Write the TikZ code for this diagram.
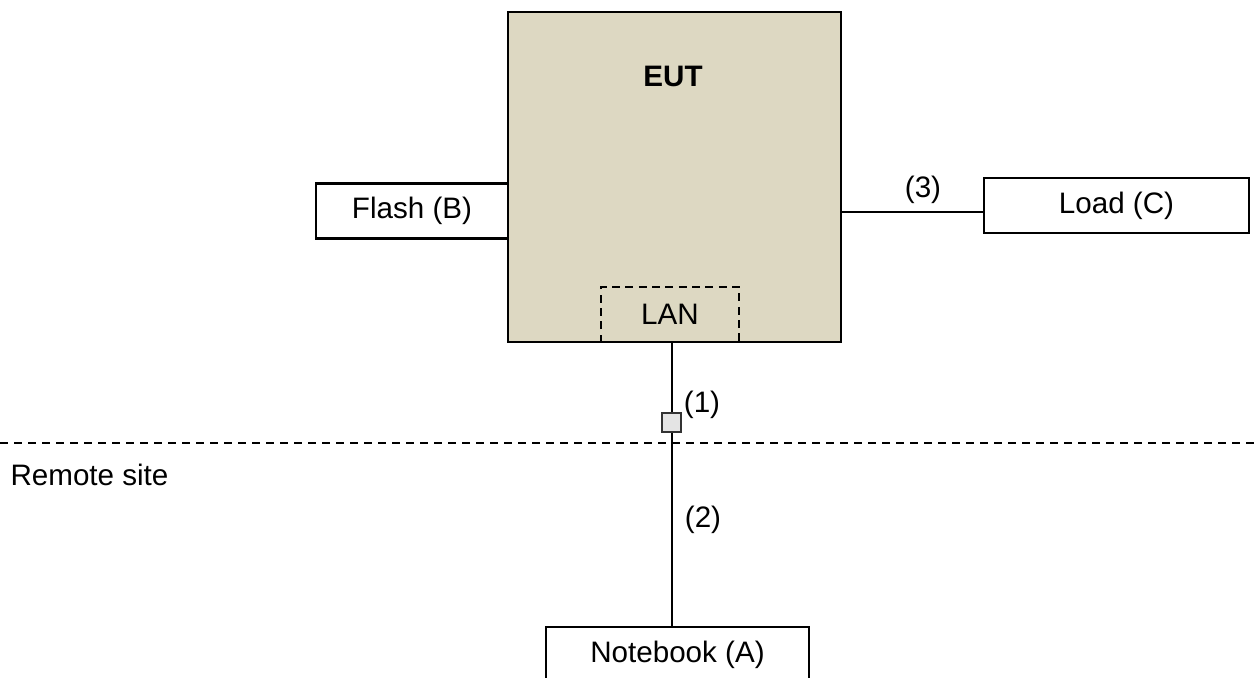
\documentclass[tikz,border=0pt]{standalone}
\usepackage{fontspec}
\setmainfont{Liberation Sans}
\usetikzlibrary{positioning,calc}
\definecolor{eutfill}{HTML}{DDD8C2}
\definecolor{portfill}{HTML}{E4E4E4}

\begin{document}
\begin{tikzpicture}[x=0.375pt,y=-0.375pt,
    every node/.style={font=\fontsize{11.1}{13}\selectfont, inner sep=0pt},
    unit/.style={draw, line width=0.8pt, fill=white, minimum height=20.6pt},
    eutbox/.style={draw, line width=0.9pt, fill=eutfill, minimum width=124.9pt, minimum height=123.75pt},
    lanbox/.style={minimum width=51pt, minimum height=20.6pt},
    portbox/.style={draw, line width=0.7pt, draw=black!80, fill=portfill, minimum size=7.1pt},
    wire/.style={line width=0.75pt},
    sitesep/.style={line width=0.7pt, dash pattern=on 3pt off 2.25pt}
    ]
    \useasboundingbox (0,0) rectangle (1257,677);

    \node[eutbox] (eut) at (674.5,177) {};
    \node[font=\fontsize{11.1}{13}\selectfont\bfseries] (euttitle) at (673,76) {EUT};
    \node[lanbox] (lan) at (670,314.5) {LAN};
    \draw[line width=0.75pt, dash pattern=on 3pt off 2pt] (lan.south west) |- (lan.north east) -- (lan.south east);

    \node[unit, minimum width=72pt] (flash) at (412,211) {Flash (B)};
    \node[unit, minimum width=99.4pt] (load) at (1116.5,205.5) {Load (C)};
    \node[unit, minimum width=98.6pt] (notebook) at (677.5,654.5) {Notebook (A)};
    \node[portbox] (port) at (671.5,422.5) {};

    \coordinate (loadin) at ($(load.west)+(0,6.5)$);
    \draw[wire] (loadin -| eut.east) -- (loadin);
    \draw[wire] (lan.south -| port.north) -- (port.north);
    \draw[wire] (port.south) -- (port.south |- notebook.north);

    \coordinate (sepL) at (0,443);
    \coordinate (sepR) at (1257,443);
    \draw[sitesep] (sepL) -- (sepR);

    \node (lbl1) at (702,405) {(1)};
    \node (lbl2) at (703,520) {(2)};
    \node (lbl3) at (923,190) {(3)};
    \node[anchor=west] (remote) at (10,475) {Remote site};
\end{tikzpicture}
\end{document}
